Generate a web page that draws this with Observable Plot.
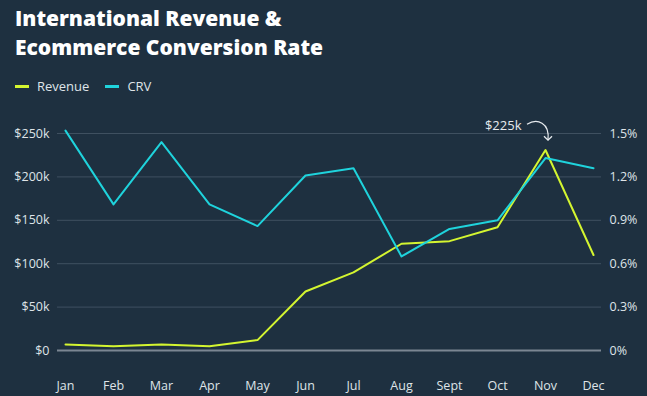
<!DOCTYPE html>
<html>
<head>
<meta charset="utf-8">
<script src="https://cdn.jsdelivr.net/npm/d3@7"></script>
<script src="https://cdn.jsdelivr.net/npm/@observablehq/plot@0.6"></script>
<style>
  html, body { margin: 0; padding: 0; background: #1e3040; }
  body { width: 647px; height: 396px; overflow: hidden; font-family: "Open Sans", sans-serif; color: #e6eaee; }
  #title { position: absolute; left: 15px; top: 4px; font-size: 21px; font-weight: 800; line-height: 29px; color: #ffffff; }
  #legend { position: absolute; left: 15px; top: 77px; font-size: 13px; color: #dfe4e8; display: flex; align-items: center; }
  .sw { display: inline-block; width: 14px; height: 3px; margin-right: 8px; }
  .item { display: flex; align-items: center; margin-right: 16px; }
  #chart { position: absolute; left: 0; top: 100px; }
</style>
</head>
<body>
<div id="title"><div>International Revenue &amp;</div><div>Ecommerce Conversion Rate</div></div>
<div id="legend"></div>
<div id="chart"></div>
<script>
const months = ["Jan","Feb","Mar","Apr","May","Jun","Jul","Aug","Sept","Oct","Nov","Dec"];
const revenue = [7000, 5000, 7000, 5000, 12000, 68000, 90000, 123000, 126000, 142000, 231000, 110000];
const crv = [1.52, 1.01, 1.44, 1.01, 0.86, 1.21, 1.26, 0.65, 0.84, 0.90, 1.33, 1.26];
const leftTicks = [0, 50000, 100000, 150000, 200000, 250000];
const leftLabels = ["$0", "$50k", "$100k", "$150k", "$200k", "$250k"];
const rightLabels = ["0%", "0.3%", "0.6%", "0.9%", "1.2%", "1.5%"];
const seriesNames = ["Revenue", "CRV"];
const seriesColors = ["#d4f530", "#1fd3dc"];
const annotationText = "$225k";

const yMax = 250000, crvMax = 1.5;
const revData = months.map((m, i) => ({month: m, value: revenue[i]}));
const crvData = months.map((m, i) => ({month: m, value: crv[i] * yMax / crvMax}));

// legend
const legend = document.getElementById("legend");
seriesNames.forEach((n, i) => {
  const it = document.createElement("div");
  it.className = "item";
  it.innerHTML = `<span class="sw" style="background:${seriesColors[i]}"></span><span>${n}</span>`;
  legend.appendChild(it);
});

const tickFont = {fontSize: 12.5, fill: "#dfe4e8"};

const arrowMark = (index, scales) => {
  const x = scales.x("Nov");
  const y0 = scales.y(259000);
  const g = document.createElementNS("http://www.w3.org/2000/svg", "g");
  const sx = x - 18, sy = y0 - 1;
  const ex = x + 3, ey = y0 + 15;
  const p = document.createElementNS("http://www.w3.org/2000/svg", "path");
  p.setAttribute("d", `M${sx},${sy} C${sx + 10},${sy - 6} ${ex + 2},${sy - 2} ${ex},${ey}`);
  p.setAttribute("fill", "none");
  p.setAttribute("stroke", "#e6eaee");
  p.setAttribute("stroke-width", 1.3);
  g.appendChild(p);
  const h = document.createElementNS("http://www.w3.org/2000/svg", "path");
  h.setAttribute("d", `M${ex - 4},${ey - 4} L${ex},${ey} L${ex + 4},${ey - 4}`);
  h.setAttribute("fill", "none");
  h.setAttribute("stroke", "#e6eaee");
  h.setAttribute("stroke-width", 1.3);
  g.appendChild(h);
  return g;
};

const chart = Plot.plot({
  width: 647,
  height: 296,
  marginTop: 33,
  marginBottom: 46,
  marginLeft: 57,
  marginRight: 46,
  style: {background: "transparent", fontFamily: "'Open Sans', sans-serif", overflow: "visible"},
  x: {type: "point", domain: months, padding: 0.085},
  y: {domain: [0, yMax]},
  marks: [
    Plot.ruleY(leftTicks.slice(1), {stroke: "#3f5060", strokeWidth: 1}),
    Plot.ruleY([0], {stroke: "#7b8692", strokeWidth: 2}),
    Plot.axisY({anchor: "left", ticks: leftTicks, tickSize: 0, tickPadding: 8, tickFormat: d => leftLabels[leftTicks.indexOf(d)], label: null, ...tickFont}),
    Plot.axisY({anchor: "right", ticks: leftTicks, tickSize: 0, tickPadding: 8, tickFormat: d => rightLabels[leftTicks.indexOf(d)], label: null, ...tickFont}),
    Plot.axisX({anchor: "bottom", tickSize: 0, tickPadding: 31, label: null, ...tickFont}),
    Plot.line(revData, {x: "month", y: "value", stroke: seriesColors[0], strokeWidth: 2}),
    Plot.line(crvData, {x: "month", y: "value", stroke: seriesColors[1], strokeWidth: 2}),
    Plot.text([annotationText], {x: () => "Nov", y: () => 259000, text: d => d, dx: -24, textAnchor: "end", fill: "#e6eaee", fontSize: 13}),
    arrowMark
  ]
});
document.getElementById("chart").appendChild(chart);
</script>
</body>
</html>
